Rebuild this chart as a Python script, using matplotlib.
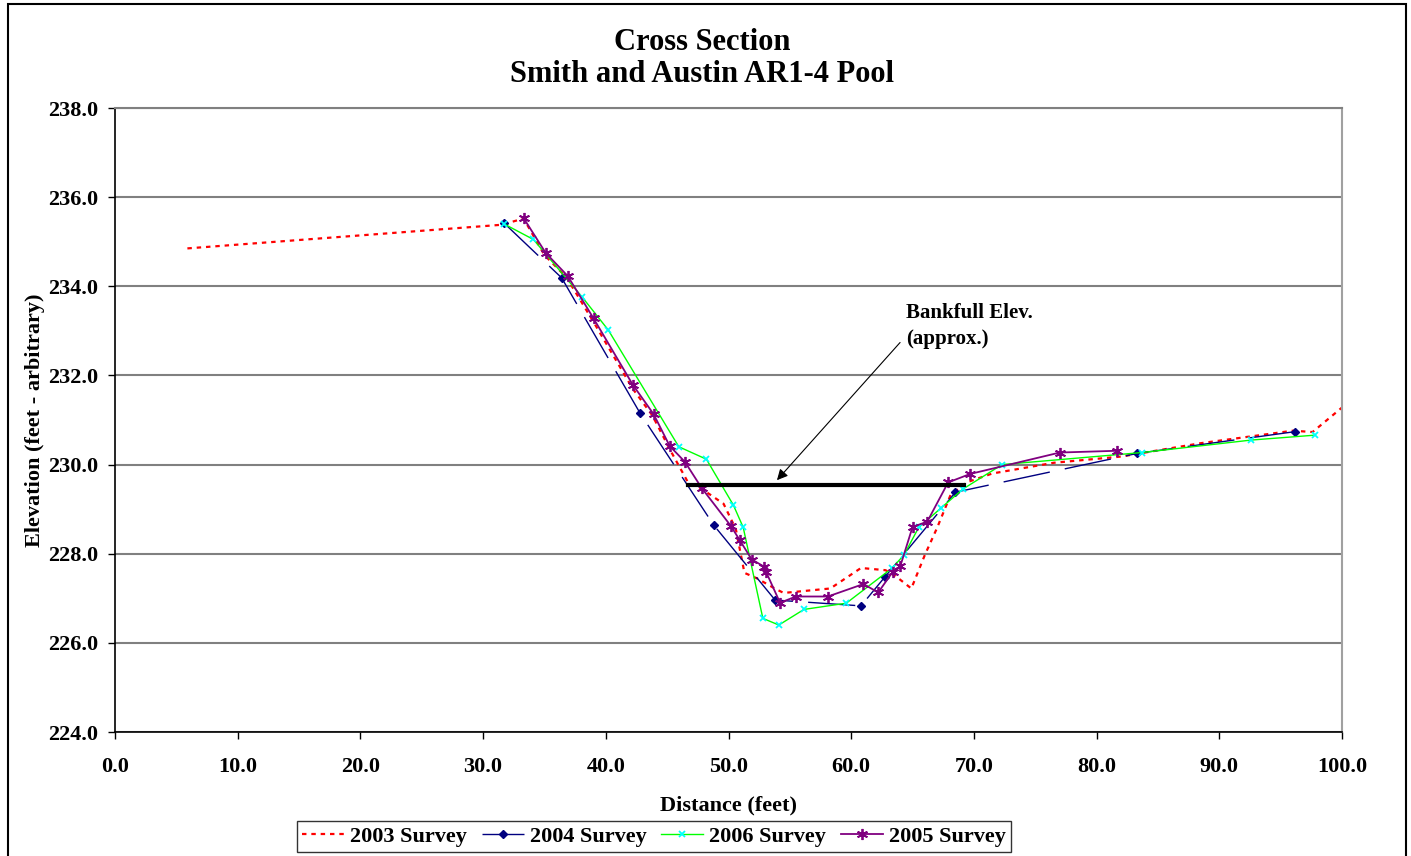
import matplotlib
matplotlib.use('Agg')
import matplotlib.pyplot as plt
from matplotlib.patches import Rectangle

plt.rcParams['font.family'] = ['Liberation Serif', 'DejaVu Serif']
plt.rcParams['font.weight'] = 'bold'

# survey profiles: distance (feet) vs elevation (feet)
x03 = [5.9, 31.5, 33.3, 35.0, 36.8, 39.0, 42.2, 43.8, 45.3, 46.7, 48.0, 49.6, 50.6,
       51.3, 52.3, 53.9, 54.5, 58.3, 60.8, 62.8, 63.7, 64.9, 66.0, 67.0, 68.1, 69.4,
       71.5, 76.5, 82.0, 88.5, 96.0, 97.6, 100.0]
y03 = [234.85, 235.38, 235.52, 234.7, 234.2, 233.2, 231.7, 231.1, 230.3, 229.6, 229.42,
       229.12, 228.55, 227.57, 227.45, 227.2, 227.12, 227.22, 227.68, 227.63, 227.48,
       227.22, 227.97, 228.58, 229.32, 229.6, 229.8, 230.04, 230.18, 230.48, 230.76,
       230.73, 231.28]

x04 = [31.7, 36.4, 42.8, 48.8, 53.8, 60.8, 62.75, 68.5, 83.3, 96.2]
y04 = [235.42, 234.19, 231.15, 228.64, 226.96, 226.83, 227.48, 229.38, 230.25, 230.74]

x06 = [31.7, 34.1, 38.1, 40.2, 45.95, 48.2, 50.4, 51.2, 52.8, 54.1, 56.15, 59.6, 63.3,
       64.3, 65.5, 67.3, 69.1, 72.3, 83.7, 92.6, 97.8]
y06 = [235.4, 235.05, 233.75, 233.02, 230.4, 230.12, 229.09, 228.59, 226.55, 226.4,
       226.75, 226.89, 227.67, 227.97, 228.59, 229.02, 229.45, 230.0, 230.27, 230.55,
       230.66]

x05 = [33.3, 35.1, 36.9, 39.0, 42.2, 43.9, 45.2, 46.45, 47.8, 50.2, 50.9, 51.9, 52.9,
       53.05, 54.2, 55.5, 58.1, 61.0, 62.2, 63.4, 64.0, 65.0, 66.2, 67.9, 69.7, 77.0, 81.7]
y05 = [235.53, 234.75, 234.23, 233.28, 231.79, 231.13, 230.42, 230.06, 229.48, 228.62,
       228.31, 227.87, 227.71, 227.6, 226.9, 227.04, 227.04, 227.32, 227.13, 227.6, 227.72,
       228.6, 228.72, 229.6, 229.79, 230.27, 230.31]

bankfull_elev = 229.55
bankfull_x = [46.7, 69.2]

xticks = [0, 10, 20, 30, 40, 50, 60, 70, 80, 90, 100]
yticks = [224, 226, 228, 230, 232, 234, 236, 238]

fig = plt.figure(figsize=(14.11, 8.56), dpi=100)
ax = fig.add_axes([115 / 1411, 1 - 732 / 856, (1342 - 115) / 1411, (732 - 108) / 856])

ax.plot(x03, y03, color='#ff0000', lw=1.6, linestyle=(0, (2, 2.2)), label='2003 Survey')
ax.plot(x04, y04, color='#000080', lw=1.0, dashes=(34, 11), marker='D', markersize=4,
        label='2004 Survey')
ax.plot(x06, y06, color='#00ff00', lw=1.0, marker='x', markersize=5, mec='#00ffff',
        mew=1.3, label='2006 Survey')
ax.plot(x05, y05, color='#800080', lw=1.3, marker=(6, 2, 0), markersize=8, mew=1.3,
        label='2005 Survey')

ax.plot(bankfull_x, [bankfull_elev, bankfull_elev], color='black', lw=3)
ax.annotate('Bankfull Elev.\n(approx.)', xy=(53.95, 229.65), xytext=(64.5, 233.1),
            fontsize=15, fontweight='bold', ha='left', va='center', linespacing=1.4,
            arrowprops=dict(arrowstyle='-|>', color='black', lw=0.8, mutation_scale=16,
                            shrinkA=0, shrinkB=0, relpos=(-0.05, 0.15)))

ax.set_xlim(0, 100)
ax.set_ylim(224, 238)
ax.set_xticks(xticks)
ax.set_yticks(yticks)
ax.set_xticklabels([f'{v:.1f}' for v in xticks])
ax.set_yticklabels([f'{v:.1f}' for v in yticks])
ax.tick_params(axis='both', direction='out', length=5, width=1, labelsize=16)
ax.tick_params(axis='y', pad=7)
ax.tick_params(axis='x', pad=13)
ax.yaxis.grid(True, color='#808080', lw=1.5)
ax.set_axisbelow(True)

for side in ['left', 'bottom']:
    ax.spines[side].set_color('black')
    ax.spines[side].set_linewidth(1.2)
ax.spines['top'].set_color('#808080')
ax.spines['top'].set_linewidth(1.5)
ax.spines['right'].set_color('#a0a0a0')
ax.spines['right'].set_linewidth(1.5)

ax.set_xlabel('Distance (feet)', fontsize=16, fontweight='bold', labelpad=13)
ax.set_ylabel('Elevation (feet - arbitrary)', fontsize=16, fontweight='bold', labelpad=2)

fig.text(0.4975, 1 - 42 / 856, 'Cross Section', ha='center', va='center', fontsize=22,
         fontweight='bold')
fig.text(0.4975, 1 - 75 / 856, 'Smith and Austin AR1-4 Pool', ha='center', va='center',
         fontsize=22, fontweight='bold')

leg = ax.legend(loc='center', bbox_to_anchor=(654 / 1411, 1 - 836.5 / 856),
                bbox_transform=fig.transFigure, ncol=4, fontsize=16, frameon=True,
                fancybox=False, edgecolor='black', handlelength=1.9, handletextpad=0.27,
                columnspacing=0.65, borderpad=0.25, borderaxespad=0)
leg.get_frame().set_linewidth(1.0)

fig.patches.append(Rectangle((8 / 1411, -0.01), (1406 - 8) / 1411, 1.01 - 4 / 856,
                             transform=fig.transFigure, fill=False, edgecolor='black',
                             lw=1.5))

fig.savefig('out.png', dpi=100)
